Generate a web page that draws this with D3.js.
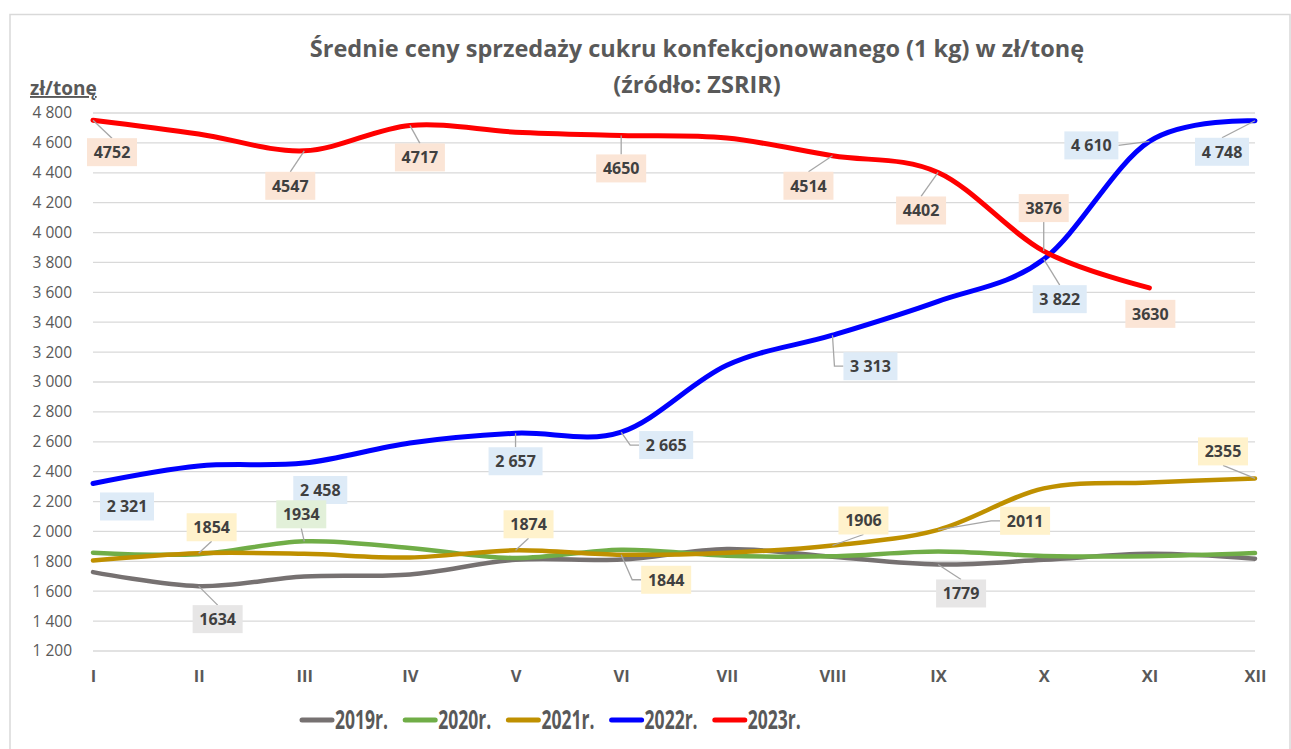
<!DOCTYPE html>
<html>
<head>
<meta charset="utf-8">
<script src="https://cdn.jsdelivr.net/npm/d3@7"></script>
<style>
  body { margin: 0; background: #fff; }
  svg text { font-family: "Open Sans", "DejaVu Sans", sans-serif; }
</style>
</head>
<body>
<div id="chart"></div>
<script>
// Średnie ceny sprzedaży cukru konfekcjonowanego, zł/tonę (ZSRIR)

var months = ["I", "II", "III", "IV", "V", "VI", "VII", "VIII", "IX", "X", "XI", "XII"];
var yTicks = [1200, 1400, 1600, 1800, 2000, 2200, 2400, 2600, 2800, 3000, 3200, 3400,
              3600, 3800, 4000, 4200, 4400, 4600, 4800];

var y2019 = [1728, 1634, 1698, 1712, 1810, 1812, 1882, 1830, 1779, 1810, 1850, 1818];
var y2020 = [1858, 1848, 1934, 1890, 1822, 1878, 1838, 1834, 1866, 1836, 1834, 1855];
var y2021 = [1805, 1854, 1850, 1826, 1874, 1844, 1858, 1906, 2011, 2288, 2328, 2355];
var y2022 = [2321, 2438, 2458, 2592, 2657, 2665, 3112, 3313, 3540, 3822, 4610, 4748];
var y2023 = [4752, 4660, 4547, 4717, 4672, 4650, 4632, 4514, 4402, 3876, 3630, null];

var seriesNames = ["2019r.", "2020r.", "2021r.", "2022r.", "2023r."];
var seriesValues = [y2019, y2020, y2021, y2022, y2023];

// look of each series
var lineColors = ["#767171", "#70AD47", "#BF9000", "#0000FF", "#FF0000"];
var boxColors = ["#E7E6E6", "#E2F0D9", "#FFF2CC", "#DEEBF7", "#FBE5D6"];
var spaced = [false, false, false, true, false];

// data labels: series, month index, box centre offset from point, optional leader elbow
var labels = [
  {s: 4, i: 0, dx: 19, dy: 32},
  {s: 4, i: 2, dx: -14, dy: 35},
  {s: 4, i: 3, dx: 10, dy: 32},
  {s: 4, i: 5, dx: 0, dy: 33},
  {s: 4, i: 7, dx: -24, dy: 30},
  {s: 4, i: 8, dx: -17, dy: 38},
  {s: 4, i: 9, dx: 0, dy: -43},
  {s: 4, i: 10, dx: 1, dy: 26, noLine: true},
  {s: 3, i: 0, dx: 34, dy: 23, noLine: true},
  {s: 3, i: 2, dx: 16, dy: 27, noLine: true},
  {s: 3, i: 4, dx: 0, dy: 28},
  {s: 3, i: 5, dx: 45, dy: 13, elbow: true},
  {s: 3, i: 7, dx: 38, dy: 31, elbow: true},
  {s: 3, i: 9, dx: 16, dy: 40},
  {s: 3, i: 10, dx: -58, dy: 4, side: "right"},
  {s: 3, i: 11, dx: -33, dy: 31},
  {s: 2, i: 1, dx: 13, dy: -26},
  {s: 2, i: 4, dx: 13, dy: -26},
  {s: 2, i: 5, dx: 45, dy: 25, elbow: true},
  {s: 2, i: 7, dx: 31, dy: -25},
  {s: 2, i: 8, dx: 87, dy: -9, elbow: true},
  {s: 2, i: 11, dx: -32, dy: -27},
  {s: 1, i: 2, dx: -3, dy: -27},
  {s: 0, i: 1, dx: 19, dy: 33},
  {s: 0, i: 8, dx: 23, dy: 29}
];

var W = 1291, H = 749;
var margin = {left: 93, right: 36, top: 113, bottom: 98};

var svg = d3.select("#chart").append("svg")
  .attr("width", W).attr("height", H);

svg.append("rect")
  .attr("x", 10).attr("y", 14.5)
  .attr("width", 1280).attr("height", 760)
  .attr("fill", "#fff")
  .attr("stroke", "#D9D9D9").attr("stroke-width", 1.5);

var x = d3.scalePoint()
  .domain(months)
  .range([margin.left, W - margin.right]);

var y = d3.scaleLinear()
  .domain([1200, 4800])
  .range([H - margin.bottom, margin.top]);

// grid
svg.append("g")
  .selectAll("line")
  .data(yTicks)
  .join("line")
  .attr("x1", margin.left).attr("x2", W - margin.right)
  .attr("y1", function(d){ return y(d); })
  .attr("y2", function(d){ return y(d); })
  .attr("stroke", "#D9D9D9").attr("stroke-width", 1.3);

var fmtSpace = function(v){ return d3.format(",")(v).replace(/,/g, " "); };

// y axis
var yAxis = svg.append("g")
  .attr("transform", "translate(" + (margin.left - 18) + ",0)")
  .call(d3.axisLeft(y).tickValues(yTicks).tickSize(0).tickFormat(fmtSpace));
yAxis.select(".domain").remove();
yAxis.selectAll("text")
  .attr("fill", "#595959")
  .style("font-size", "15.5px");

// x axis
var xAxis = svg.append("g")
  .attr("transform", "translate(0," + (H - margin.bottom + 16) + ")")
  .call(d3.axisBottom(x).tickSize(0));
xAxis.select(".domain").remove();
xAxis.selectAll("text")
  .attr("fill", "#595959")
  .style("font-size", "16.5px")
  .style("font-weight", "bold");

// lines
var line = d3.line()
  .defined(function(d){ return d != null; })
  .x(function(d, i){ return x(months[i]); })
  .y(function(d){ return y(d); })
  .curve(d3.curveCardinal.tension(0));

svg.append("g")
  .selectAll("path")
  .data(seriesValues)
  .join("path")
  .attr("d", function(d){ return line(d); })
  .attr("fill", "none")
  .attr("stroke", function(d, k){ return lineColors[k]; })
  .attr("stroke-width", function(d, k){ return k >= 3 ? 5 : 4.5; })
  .attr("stroke-linecap", "round")
  .attr("stroke-linejoin", "round");

// data labels
var lg = svg.append("g");
labels.forEach(function(L){
  var v = seriesValues[L.s][L.i];
  var px = x(months[L.i]), py = y(v);
  var cx = px + L.dx, cy = py + L.dy;
  var txt = spaced[L.s] ? fmtSpace(v) : String(v);
  var bw = txt.length > 4 ? 54 : 50, bh = 28;

  if (!L.noLine) {
    var tx, ty;
    if (L.elbow) {
      tx = cx - bw / 2; ty = cy;
      lg.append("polyline")
        .attr("points", [[px, py], [tx - 9, ty], [tx, ty]].map(function(p){ return p.join(","); }).join(" "))
        .attr("fill", "none").attr("stroke", "#A6A6A6").attr("stroke-width", 1.3);
    } else {
      if (L.side == "right") { tx = cx + bw / 2; ty = cy; }
      else { tx = cx; ty = L.dy > 0 ? cy - bh / 2 : cy + bh / 2; }
      lg.append("line")
        .attr("x1", px).attr("y1", py).attr("x2", tx).attr("y2", ty)
        .attr("stroke", "#A6A6A6").attr("stroke-width", 1.3);
    }
  }
  lg.append("rect")
    .attr("x", cx - bw / 2).attr("y", cy - bh / 2)
    .attr("width", bw).attr("height", bh)
    .attr("fill", boxColors[L.s]);
  lg.append("text")
    .attr("x", cx).attr("y", cy)
    .attr("text-anchor", "middle").attr("dy", "0.36em")
    .attr("fill", "#404040")
    .style("font-size", "16px").style("font-weight", "bold")
    .text(txt);
});

// title
svg.append("text")
  .attr("x", 697).attr("y", 57)
  .attr("text-anchor", "middle")
  .attr("fill", "#595959")
  .style("font-size", "23.5px").style("font-weight", "bold")
  .text("Średnie ceny sprzedaży cukru konfekcjonowanego (1 kg) w zł/tonę");
svg.append("text")
  .attr("x", 697).attr("y", 93)
  .attr("text-anchor", "middle")
  .attr("fill", "#595959")
  .style("font-size", "23.5px").style("font-weight", "bold")
  .text("(źródło: ZSRIR)");

svg.append("text")
  .attr("x", 30).attr("y", 95)
  .attr("fill", "#595959")
  .style("font-size", "19px").style("font-weight", "bold")
  .style("text-decoration", "underline")
  .text("zł/tonę");

// legend
var leg = svg.append("g")
  .selectAll("g")
  .data(seriesNames)
  .join("g")
  .attr("transform", function(d, k){ return "translate(" + (302 + k * 103.2) + ",720)"; });
leg.append("line")
  .attr("x1", 0).attr("x2", 30)
  .attr("stroke", function(d, k){ return lineColors[k]; })
  .attr("stroke-width", 5).attr("stroke-linecap", "round");
leg.append("text")
  .attr("x", 33).attr("dy", "0.36em")
  .attr("fill", "#595959")
  .attr("textLength", 53).attr("lengthAdjust", "spacingAndGlyphs")
  .style("font-size", "26px").style("font-weight", "bold")
  .text(function(d){ return d; });
</script>
</body>
</html>
